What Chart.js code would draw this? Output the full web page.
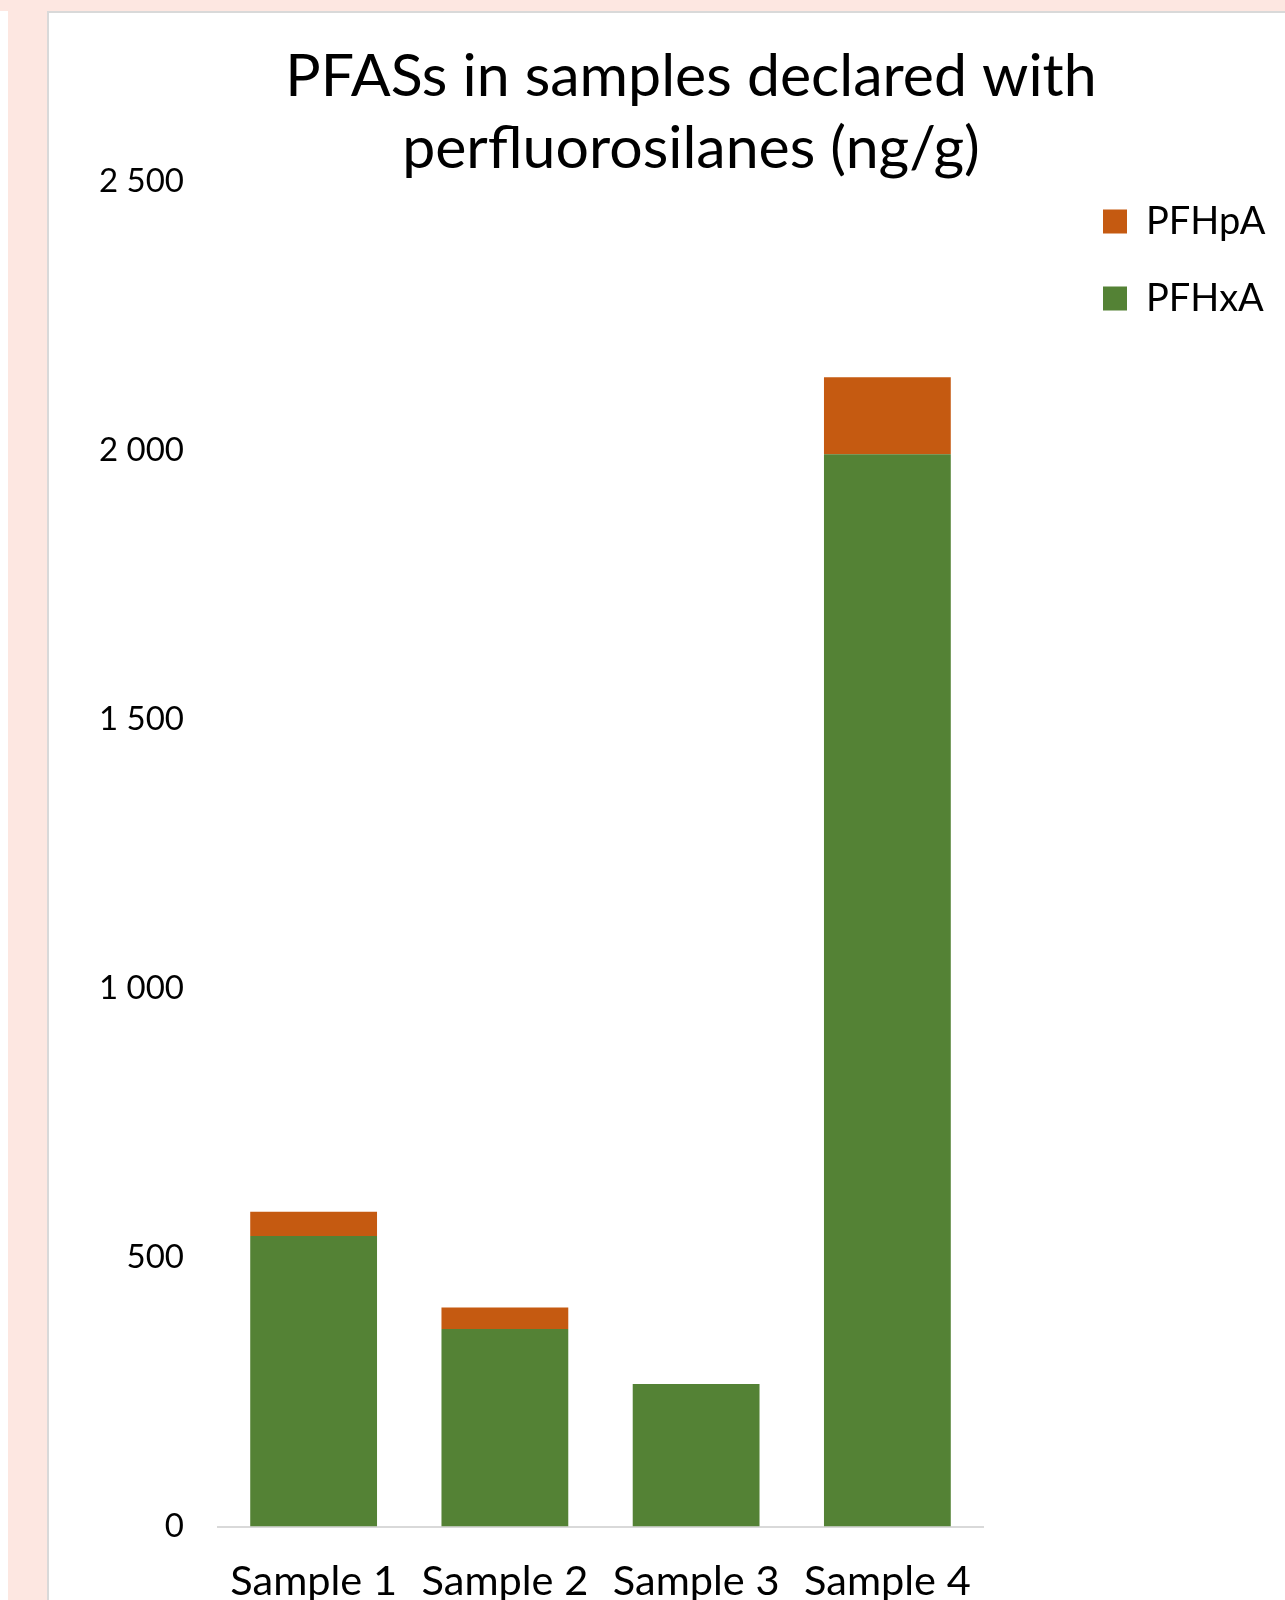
<!DOCTYPE html>
<html>
<head>
<meta charset="utf-8">
<title>PFASs in samples declared with perfluorosilanes</title>
<script src="https://cdn.jsdelivr.net/npm/chart.js@4.4.1/dist/chart.umd.min.js"></script>
<style>
    html, body { margin: 0; padding: 0; overflow: hidden; }
    body { background: #fde7e1; width: 1285px; height: 1600px; position: relative; }
    .strip { position: absolute; left: 0; top: 11px; width: 8px; height: 1600px; background: #fff; }
    .card { position: absolute; left: 47px; top: 11px; width: 1260px; height: 1620px; background: #fff; border: 2px solid #d9d9d9; }
    .wrap { position: absolute; left: 0; top: 0; width: 1285px; height: 1600px; overflow: hidden; }
</style>
</head>
<body>
<div class="strip"></div>
<div class="card"></div>
<div class="wrap"><canvas id="myChart" width="1400" height="1600"></canvas></div>
<script>
const samples = ['Sample 1', 'Sample 2', 'Sample 3', 'Sample 4']
const pfhxa = [540, 367, 265, 1993]
const pfhpa = [45, 40, 0, 143]
const yTicks = [0, 500, 1000, 1500, 2000, 2500]

// "2 500" style labels
const fmt = (v) => String(v).replace(/\B(?=(\d{3})+(?!\d))/g, ' ')

const ctx = document.getElementById('myChart').getContext('2d');

// invisible right-hand boxes, only used to place the legend
const spacer = (w, weight) => ({
    type: 'linear',
    position: 'right',
    weight: weight,
    grid: { display: false, drawTicks: false },
    border: { display: false },
    ticks: { display: false },
    afterFit: (scale) => { scale.width = w }
})

const myChart = new Chart(ctx, {
    type: 'bar',
    data: {
        labels: samples,
        datasets: [{
            label: 'PFHxA',
            data: pfhxa,
            backgroundColor: '#548235',
            borderWidth: 0
        }, {
            label: 'PFHpA',
            data: pfhpa,
            backgroundColor: '#c55a11',
            borderWidth: 0
        }]
    },
    options: {
        responsive: false,
        animation: false,
        layout: {
            padding: { left: 60, right: 78, top: 0, bottom: 0 }
        },
        datasets: {
            bar: { categoryPercentage: 1, barPercentage: 0.663 }
        },
        plugins: {
            tooltip: { enabled: false },
            title: {
                display: true,
                text: ['PFASs in samples declared with', 'perfluorosilanes (ng/g)'],
                color: '#000',
                font: { family: 'Lato', size: 59, weight: 'normal', lineHeight: '72.5px' },
                padding: { top: 40.5, bottom: -4 }
            },
            legend: {
                position: 'right',
                align: 'start',
                fullSize: false,
                reverse: true,
                maxWidth: 205,
                title: {
                    display: true,
                    text: '',
                    font: { size: 1, lineHeight: 1 },
                    padding: { top: 0, bottom: -19 }
                },
                labels: {
                    boxWidth: 24,
                    boxHeight: 24,
                    padding: 39,
                    color: '#000',
                    font: { family: 'Lato', size: 38 }
                }
            }
        },
        scales: {
            x: {
                stacked: true,
                grid: { display: false, drawTicks: false },
                border: { display: true, color: '#d9d9d9', width: 2 },
                ticks: {
                    color: '#000',
                    padding: 30,
                    maxRotation: 0,
                    font: { family: 'Lato', size: 41.5 }
                },
                afterFit: (scale) => { scale.height = 73.5 }
            },
            y: {
                stacked: true,
                min: yTicks[0],
                max: yTicks[yTicks.length - 1],
                grid: { display: false, drawTicks: false },
                border: { display: false },
                ticks: {
                    stepSize: yTicks[1] - yTicks[0],
                    color: '#000',
                    padding: 34,
                    font: { family: 'Lato', size: 33 },
                    callback: (v) => fmt(v)
                },
                afterFit: (scale) => { scale.width = 158 }
            },
            gap: spacer(81, 0),
            gapOuter: spacer(53, 3000)
        }
    }
});
</script>
</body>
</html>
